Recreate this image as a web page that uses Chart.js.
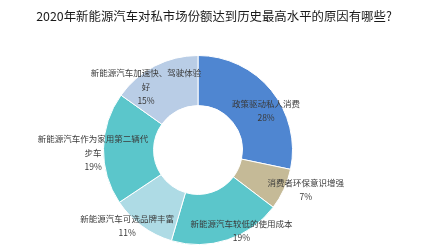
<!DOCTYPE html>
<html><head><meta charset="utf-8">
<script src="https://cdn.jsdelivr.net/npm/chart.js@4/dist/chart.umd.min.js"></script>
<style>
html,body{margin:0;padding:0;background:#fff;}
#wrap{position:relative;width:440px;height:250px;}
#title{position:absolute;left:0;top:8px;width:428px;text-align:center;font-family:"Noto Sans CJK SC","Noto Sans",sans-serif;font-size:12.4px;color:#1a1a1a;line-height:16px;white-space:nowrap;}
canvas{position:absolute;left:0;top:0;}
</style></head>
<body>
<div id="wrap">
<canvas id="c" width="440" height="250"></canvas>
<div id="title">2020年新能源汽车对私市场份额达到历史最高水平的原因有哪些?</div>
</div>
<script>
const categories = ["政策驱动私人消费","消费者环保意识增强","新能源汽车较低的使用成本","新能源汽车可选品牌丰富","新能源汽车作为家用第二辆代步车","新能源汽车加速快、驾驶体验好"];
const shares = [28, 7, 19, 11, 19, 15];
const colors = ["#4F86D1","#C5BA97","#5BC6CB","#AEDBE5","#5BC6CB","#B9CDE6"];
// label block centre offsets, in units of outer radius (layout only)
const labelOffsets = [[0.72,-0.42],[1.14,0.42],[0.46,0.85],[-0.75,0.80],[-1.11,0.03],[-0.55,-0.67]];

const labelFont = '8.5px "Noto Sans CJK SC", "Noto Sans", sans-serif';
function wrap(ctx, text, maxW){
  const lines=[]; let cur="";
  for(const ch of text){
    if(ctx.measureText(cur+ch).width>maxW && cur){lines.push(cur);cur=ch;} else cur+=ch;
  }
  if(cur) lines.push(cur);
  return lines;
}
const labelPlugin = {
  id:'sliceLabels',
  afterDatasetsDraw(chart){
    const ctx=chart.ctx; const meta=chart.getDatasetMeta(0);
    ctx.save(); ctx.font=labelFont; ctx.fillStyle="#3a3a3a"; ctx.textAlign="center"; ctx.textBaseline="middle";
    meta.data.forEach((arc,i)=>{
      const R=arc.outerRadius;
      const cx=arc.x+labelOffsets[i][0]*R, cy=arc.y+labelOffsets[i][1]*R;
      const lines=wrap(ctx,categories[i],112); lines.push(shares[i]+"%");
      const lh=14; const y0=cy-(lines.length-1)*lh/2;
      lines.forEach((l,k)=>ctx.fillText(l,cx,y0+k*lh));
    });
    ctx.restore();
  }
};
new Chart(document.getElementById('c'),{
  type:'doughnut',
  data:{labels:categories,datasets:[{data:shares,backgroundColor:colors,borderColor:"#ffffff",borderWidth:1}]},
  options:{
    responsive:false,animation:false,cutout:'47%',
    layout:{padding:{top:55,bottom:5,left:103,right:147}},
    plugins:{legend:{display:false},tooltip:{enabled:false},title:{display:false}}
  },
  plugins:[labelPlugin]
});
</script>
</body></html>
